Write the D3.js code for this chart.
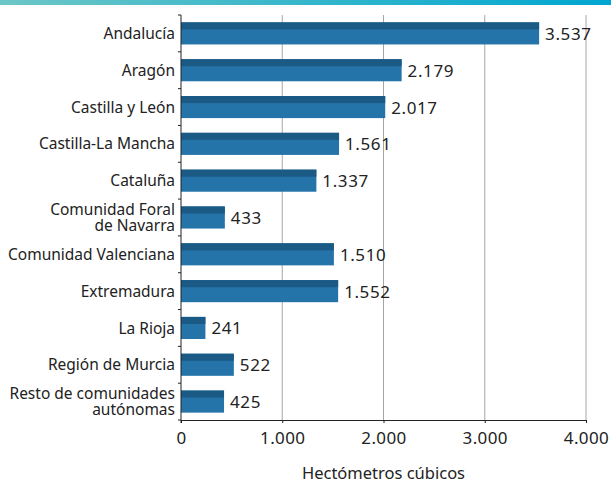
<!DOCTYPE html>
<html>
<head>
<meta charset="utf-8">
<script src="https://cdn.jsdelivr.net/npm/d3@7"></script>
<style>
  body { margin: 0; background: #fff; }
  text { font-family: "Noto Sans", sans-serif; fill: #222; }
</style>
</head>
<body>
<svg id="chart" width="611" height="481"></svg>
<script>
const regions = ['Andalucía', 'Aragón', 'Castilla y León', 'Castilla-La Mancha', 'Cataluña',
    'Comunidad Foral|de Navarra', 'Comunidad Valenciana', 'Extremadura', 'La Rioja',
    'Región de Murcia', 'Resto de comunidades|autónomas'];
const volumes = [3537, 2179, 2017, 1561, 1337, 433, 1510, 1552, 241, 522, 425];
const xTicks = [0, 1000, 2000, 3000, 4000];
const axisTitle = 'Hectómetros cúbicos';

const margin = { top: 15, right: 25, bottom: 61, left: 181 };
const width = 611 - margin.left - margin.right;
const height = 481 - margin.top - margin.bottom;

const fmt = (v) => d3.format(',')(v).replace(/,/g, '.');

const svg = d3.select('#chart');

// gradient strip along the top
const grad = svg.append('defs').append('linearGradient').attr('id', 'topband');
grad.append('stop').attr('offset', '0%').attr('stop-color', '#6cc6c6');
grad.append('stop').attr('offset', '100%').attr('stop-color', '#00a6d0');
svg.append('rect').attr('x', 0).attr('y', 0).attr('width', 611).attr('height', 5)
    .attr('fill', 'url(#topband)');

const g = svg.append('g').attr('transform', `translate(${margin.left}, ${margin.top})`);

const xScale = d3.scaleLinear().domain([0, 4000]).range([0, width]);
const yScale = d3.scaleBand().domain(regions).range([0, height])
    .paddingInner(0.4).paddingOuter(0.2);

// gridlines
g.append('g').selectAll('line').data(xTicks.slice(1)).enter().append('line')
    .attr('x1', (d) => xScale(d)).attr('x2', (d) => xScale(d))
    .attr('y1', 0).attr('y2', height)
    .attr('stroke', '#a6a6a6').attr('stroke-width', 1);

// bars: light body with darker top stripe
const bars = g.append('g').selectAll('g').data(regions).enter().append('g');
bars.append('rect')
    .attr('x', 0).attr('y', (d) => yScale(d))
    .attr('width', (d, i) => xScale(volumes[i]))
    .attr('height', yScale.bandwidth())
    .attr('fill', '#2474aa');
bars.append('rect')
    .attr('x', 0).attr('y', (d) => yScale(d))
    .attr('width', (d, i) => xScale(volumes[i]))
    .attr('height', yScale.bandwidth() * 0.32)
    .attr('fill', '#1b5a85');
bars.append('text')
    .attr('x', (d, i) => xScale(volumes[i]) + 6)
    .attr('y', (d) => yScale(d) + yScale.bandwidth() / 2)
    .attr('dy', '0.38em')
    .style('font-size', '17px')
    .style('letter-spacing', '0.6px')
    .text((d, i) => fmt(volumes[i]));

// x axis
const xAxis = g.append('g').attr('transform', `translate(0, ${height})`)
    .call(d3.axisBottom(xScale).tickValues(xTicks).tickFormat(fmt).tickSizeInner(3).tickSizeOuter(0).tickPadding(9));
xAxis.select('.domain').attr('stroke', '#222');
xAxis.selectAll('.tick line').attr('stroke', '#222');
xAxis.selectAll('text').style('font-size', '17px').style('letter-spacing', '0.4px')
    .style('font-family', '"Noto Sans", sans-serif').attr('fill', '#222');

// y axis with ticks at category boundaries
g.append('line').attr('x1', 0).attr('x2', 0).attr('y1', 0).attr('y2', height + 3).attr('stroke', '#222');
const step = yScale.step();
const bounds = regions.map((d) => yScale(d) - step * 0.2).concat([height]);
g.append('g').selectAll('line').data(bounds).enter().append('line')
    .attr('x1', -3).attr('x2', 0)
    .attr('y1', (d) => d).attr('y2', (d) => d)
    .attr('stroke', '#222');

// category labels, two-line ones drawn as separate texts
const labelLines = [];
regions.forEach((d) => {
    const lines = d.split('|');
    const mid = yScale(d) + yScale.bandwidth() / 2;
    lines.forEach((ln, k) => {
        labelLines.push({ text: ln, y: mid + (k - (lines.length - 1) / 2) * 15.5 });
    });
});
g.append('g').selectAll('text').data(labelLines).enter().append('text')
    .attr('x', -6)
    .attr('y', (d) => d.y)
    .attr('dy', '0.36em')
    .attr('text-anchor', 'end')
    .style('font-size', '15.5px')
    .text((d) => d.text);

// axis title
g.append('text')
    .attr('x', width / 2).attr('y', height + 59)
    .attr('text-anchor', 'middle')
    .style('font-size', '16.5px')
    .text(axisTitle);
</script>
</body>
</html>
